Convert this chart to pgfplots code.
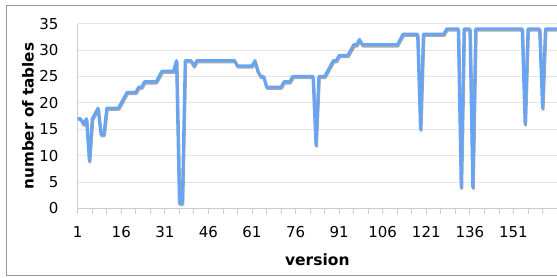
\documentclass[border=0pt]{standalone}
\usepackage{pgfplots}
\pgfplotsset{compat=1.18}
\usepackage{pgfplotstable}
\usepackage{fontspec}
\setmainfont{DejaVu Sans}
\definecolor{lineblue}{RGB}{104,164,244}
\definecolor{gridgray}{RGB}{228,228,228}
\definecolor{axisgray}{RGB}{205,205,205}
\definecolor{framegray}{RGB}{150,150,150}
\definecolor{shadowgray}{RGB}{110,110,110}

\pgfplotstableread{
v n
1 17
2 17
3 16
4 17
5 9
6 17
7 18
8 19
9 14
10 14
11 19
12 19
13 19
14 19
15 19
16 20
17 21
18 22
19 22
20 22
21 22
22 23
23 23
24 24
25 24
26 24
27 24
28 24
29 25
30 26
31 26
32 26
33 26
34 26
35 28
36 1
37 1
38 28
39 28
40 28
41 27
42 28
43 28
44 28
45 28
46 28
47 28
48 28
49 28
50 28
51 28
52 28
53 28
54 28
55 28
56 27
57 27
58 27
59 27
60 27
61 27
62 28
63 26
64 25
65 25
66 23
67 23
68 23
69 23
70 23
71 23
72 24
73 24
74 24
75 25
76 25
77 25
78 25
79 25
80 25
81 25
82 25
83 12
84 25
85 25
86 25
87 26
88 27
89 28
90 28
91 29
92 29
93 29
94 29
95 30
96 31
97 31
98 32
99 31
100 31
101 31
102 31
103 31
104 31
105 31
106 31
107 31
108 31
109 31
110 31
111 31
112 32
113 33
114 33
115 33
116 33
117 33
118 33
119 15
120 33
121 33
122 33
123 33
124 33
125 33
126 33
127 33
128 34
129 34
130 34
131 34
132 34
133 4
134 34
135 34
136 34
137 4
138 34
139 34
140 34
141 34
142 34
143 34
144 34
145 34
146 34
147 34
148 34
149 34
150 34
151 34
152 34
153 34
154 34
155 16
156 34
157 34
158 34
159 34
160 34
161 19
162 34
163 34
164 34
165 34
166 34
}\datatable

\begin{document}
\begin{tikzpicture}
\useasboundingbox (0,0) rectangle (557pt,277pt);
\fill[white] (0,0) rectangle (557pt,277pt);
\draw[framegray, line width=1pt] (6.5pt,1.2pt) rectangle (700pt,271.5pt);
\begin{axis}[
  at={(77.7pt,68.5pt)}, anchor=south west,
  scale only axis, width=479.3pt, height=184.9pt,
  xmin=1, xmax=166, ymin=0, ymax=35,
  clip=false,
  axis x line*=bottom, axis y line*=left,
  axis line style={axisgray, line width=0.8pt},
  xtick={1,16,...,151}, minor xtick={6,11,...,166},
  ytick={0,5,...,35},
  ymajorgrids, grid style={gridgray, line width=0.8pt},
  tick align=outside, major tick length=5pt, minor tick length=5pt,
  xtick style={axisgray, line width=0.8pt},
  minor tick style={axisgray, line width=0.8pt},
  ytick style={draw=none},
  /pgf/number format/assume math mode=true,
  xticklabel style={font=\fontsize{15}{18}\selectfont, inner sep=0pt, anchor=north, yshift=-13pt},
  yticklabel style={font=\fontsize{15}{18}\selectfont, inner sep=0pt, anchor=east, xshift=-14pt},
  xlabel={version}, ylabel={number of tables},
  every axis x label/.style={at={(axis description cs:0.5,-0.3056)}, anchor=base, font=\fontsize{15.5}{18}\selectfont\bfseries},
  every axis y label/.style={at={(axis description cs:-0.1037,0.5)}, anchor=center, rotate=90, font=\fontsize{15.2}{18}\selectfont\bfseries},
]
\addplot[shadowgray, opacity=0.6, line width=3pt, line join=round, xshift=0.6pt, yshift=-1.3pt] table[x=v,y=n]{\datatable};
\addplot[lineblue, line width=3pt, line join=round] table[x=v,y=n]{\datatable};
\end{axis}
\end{tikzpicture}
\end{document}
